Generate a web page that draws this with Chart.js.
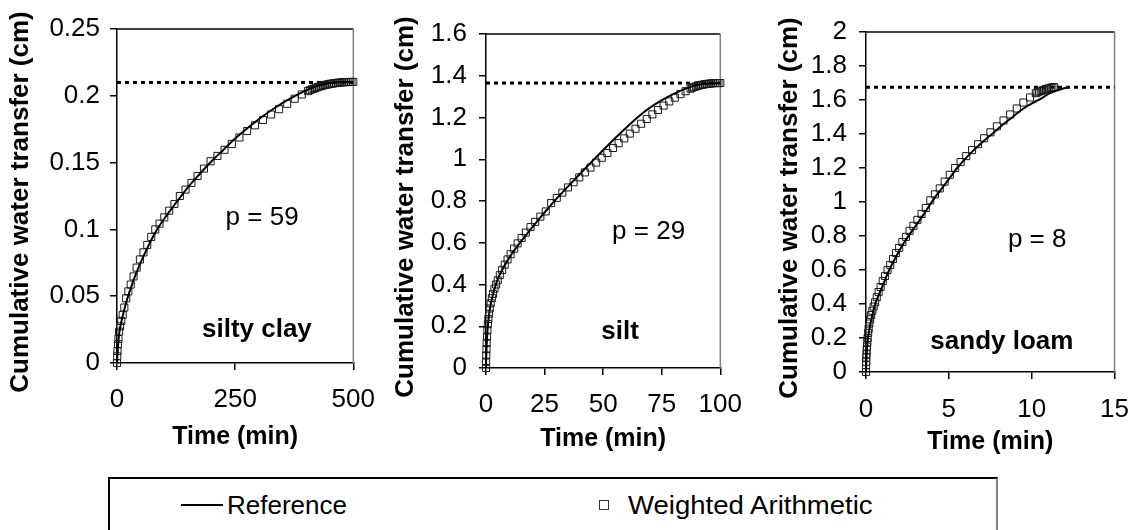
<!DOCTYPE html>
<html>
<head>
<meta charset="utf-8">
<script src="https://cdn.jsdelivr.net/npm/chart.js@4"></script>
<style>
  body { margin: 0; background: #fff; width: 1133px; height: 530px; overflow: hidden; position: relative;
         font-family: 'Liberation Sans', Arial, sans-serif; color: #000; }
  canvas { position: absolute; top: 0; }
  #legend { position: absolute; left: 108px; top: 477px; width: 886px; height: 70px;
            border: 2px solid #000; border-right-color: #808080; }
  .lg { position: absolute; font-size: 26px; line-height: 30px; white-space: nowrap; }
</style>
</head>
<body>
<canvas id="chartSiltyClay" width="389" height="470" style="left:0px"></canvas>
<canvas id="chartSilt" width="376" height="470" style="left:380px"></canvas>
<canvas id="chartSandyLoam" width="384" height="475" style="left:760px"></canvas>

<div id="legend"></div>
<div style="position:absolute;left:181px;top:504px;width:42px;height:2px;background:#000"></div>
<div class="lg" style="left:227px;top:490px">Reference</div>
<div style="position:absolute;left:599px;top:500px;width:8px;height:8px;border:1px solid #333"></div>
<div class="lg" style="left:628px;top:490px;transform:scaleX(1.06);transform-origin:left center">Weighted Arithmetic</div>

<script>
(() => {
  'use strict'
  // silty clay : temps (min) / lame cumulée (cm)
  const tSiltyClay = [0, 0.5, 1, 2, 3, 4.5, 6.5, 9, 12, 15.5, 19.5, 24, 29, 35, 41.5, 48.5, 56, 64, 72.5, 81, 90, 100, 110.5, 121.5, 133, 145, 157.5, 170.5, 184, 198, 212.5, 227.5, 243, 259, 275.5, 292, 309, 326, 343, 360, 376, 391, 404, 408, 412, 416, 420, 424, 428, 432, 436, 440, 444, 448, 452, 456, 460, 464, 468, 472, 476, 480, 484, 488, 492, 496, 500];
  const wSiltyClay = [0, 0.005, 0.009, 0.014, 0.018, 0.0235, 0.0274, 0.0315, 0.036, 0.0415, 0.0484, 0.0536, 0.0587, 0.0648, 0.0714, 0.0775, 0.0828, 0.0884, 0.0944, 0.1, 0.1043, 0.109, 0.114, 0.119, 0.125, 0.1298, 0.1348, 0.14, 0.1455, 0.151, 0.155, 0.1596, 0.164, 0.1688, 0.1736, 0.1779, 0.1819, 0.186, 0.19, 0.194, 0.1978, 0.201, 0.2035, 0.2042, 0.2048, 0.2053, 0.2059, 0.2064, 0.2069, 0.2073, 0.2077, 0.2081, 0.2084, 0.2087, 0.209, 0.2092, 0.2094, 0.2096, 0.2098, 0.2099, 0.2101, 0.2102, 0.2102, 0.2103, 0.2103, 0.2104, 0.2104];
  const tRefSiltyClay = [0, 2, 5, 10, 20, 30, 45, 60, 80, 100, 125, 150, 175, 200, 225, 250, 275, 300, 325, 350, 375, 400, 425, 450, 475, 500];
  const refSiltyClay = [0, 0.012, 0.023, 0.032, 0.046, 0.057, 0.071, 0.083, 0.097, 0.108, 0.12, 0.1315, 0.1415, 0.151, 0.1595, 0.168, 0.1755, 0.1825, 0.1888, 0.1945, 0.1995, 0.204, 0.2075, 0.2095, 0.2103, 0.2104];
  const eqSiltyClay = 0.21;
  const xTicksSiltyClay = [0, 250, 500];
  const yTicksSiltyClay = [0, 0.05, 0.1, 0.15, 0.2, 0.25];

  // silt
  const tSilt = [0, 0.05, 0.1, 0.2, 0.3, 0.45, 0.6, 0.8, 1.0, 1.3, 1.6, 2.0, 2.5, 3.0, 3.6, 4.3, 5.0, 5.9, 6.9, 8.0, 9.2, 10.5, 12.0, 13.5, 15.2, 17.0, 19.0, 21.0, 23.2, 25.5, 27.8, 30.2, 32.6, 35.0, 37.4, 39.8, 42.2, 44.6, 47.0, 49.4, 51.8, 54.2, 56.6, 59.0, 61.4, 63.8, 66.2, 68.6, 71.0, 73.4, 75.8, 78.2, 80.6, 83.0, 85.2, 87.3, 88.0, 88.8, 89.6, 90.4, 91.2, 92.0, 92.8, 93.6, 94.4, 95.2, 96.0, 96.8, 97.6, 98.4, 99.2, 100];
  const wSilt = [0, 0.03, 0.06, 0.09, 0.12, 0.15, 0.18, 0.21, 0.235, 0.26, 0.285, 0.31, 0.335, 0.355, 0.38, 0.40, 0.42, 0.445, 0.47, 0.495, 0.52, 0.545, 0.572, 0.597, 0.623, 0.649, 0.675, 0.70, 0.725, 0.75, 0.79, 0.815, 0.84, 0.865, 0.89, 0.913, 0.937, 0.96, 0.984, 1.007, 1.03, 1.054, 1.077, 1.10, 1.123, 1.146, 1.17, 1.193, 1.215, 1.236, 1.257, 1.277, 1.295, 1.312, 1.326, 1.338, 1.343, 1.346, 1.349, 1.352, 1.354, 1.356, 1.358, 1.36, 1.361, 1.362, 1.363, 1.364, 1.365, 1.365, 1.365, 1.365];
  const tRefSilt = [0, 0.1, 0.3, 0.6, 1.0, 1.6, 2.5, 3.5, 5, 7, 9, 11.5, 14.5, 18, 22, 26, 30, 34, 38, 42, 46, 50, 54, 58, 62, 66, 70, 74, 78, 82, 86, 90, 94, 100];
  const refSilt = [0, 0.05, 0.11, 0.17, 0.225, 0.28, 0.33, 0.375, 0.425, 0.472, 0.512, 0.555, 0.6, 0.65, 0.705, 0.758, 0.81, 0.858, 0.905, 0.952, 0.998, 1.044, 1.089, 1.132, 1.174, 1.213, 1.247, 1.276, 1.301, 1.323, 1.342, 1.355, 1.362, 1.365];
  const eqSilt = 1.365;
  const xTicksSilt = [0, 25, 50, 75, 100];
  const yTicksSilt = [0, 0.2, 0.4, 0.6, 0.8, 1, 1.2, 1.4, 1.6];

  // sandy loam
  const tSandyLoam = [0, 0.005, 0.01, 0.02, 0.03, 0.045, 0.06, 0.08, 0.1, 0.13, 0.16, 0.2, 0.25, 0.31, 0.38, 0.46, 0.55, 0.65, 0.76, 0.88, 1.01, 1.15, 1.3, 1.46, 1.63, 1.81, 2.0, 2.2, 2.41, 2.63, 2.86, 3.1, 3.35, 3.61, 3.88, 4.16, 4.45, 4.75, 5.06, 5.38, 5.71, 6.05, 6.4, 6.76, 7.13, 7.51, 7.9, 8.3, 8.7, 9.1, 9.5, 9.9, 10.25, 10.35, 10.45, 10.55, 10.65, 10.75, 10.85, 10.95, 11.05, 11.15, 11.25, 11.35];
  const wSandyLoam = [0, 0.04, 0.06, 0.085, 0.105, 0.13, 0.15, 0.175, 0.2, 0.23, 0.255, 0.285, 0.31, 0.335, 0.36, 0.385, 0.41, 0.44, 0.47, 0.5, 0.535, 0.565, 0.6, 0.63, 0.665, 0.70, 0.73, 0.765, 0.795, 0.83, 0.86, 0.895, 0.93, 0.965, 1.01, 1.045, 1.08, 1.12, 1.16, 1.2, 1.235, 1.27, 1.305, 1.34, 1.375, 1.41, 1.445, 1.48, 1.515, 1.55, 1.585, 1.615, 1.64, 1.645, 1.65, 1.653, 1.656, 1.66, 1.663, 1.666, 1.669, 1.672, 1.674, 1.676];
  const tRefSandyLoam = [0, 0.02, 0.05, 0.1, 0.2, 0.35, 0.55, 0.8, 1.1, 1.4, 1.8, 2.2, 2.6, 3.0, 3.5, 4.0, 4.5, 5.0, 5.5, 6.0, 6.5, 7.0, 7.6, 8.2, 8.85, 9.5, 10.1, 10.6, 11.1, 11.5, 11.9, 12.3];
  const refSandyLoam = [0, 0.07, 0.12, 0.18, 0.25, 0.32, 0.4, 0.46, 0.53, 0.6, 0.675, 0.745, 0.805, 0.86, 0.93, 1.005, 1.07, 1.135, 1.2, 1.255, 1.305, 1.35, 1.4, 1.45, 1.5, 1.55, 1.585, 1.61, 1.64, 1.655, 1.668, 1.675];
  const eqSandyLoam = 1.675;
  const xTicksSandyLoam = [0, 5, 10, 15];
  const yTicksSandyLoam = [0, 0.2, 0.4, 0.6, 0.8, 1, 1.2, 1.4, 1.6, 1.8, 2];

  // annotations (coordonnées données)
  const notesSiltyClay = [{x: 307, y: 0.1085, text: 'p = 59'}, {x: 296, y: 0.025, text: 'silty clay', bold: true}];
  const notesSilt = [{x: 69.4, y: 0.653, text: 'p = 29'}, {x: 57.2, y: 0.174, text: 'silt', bold: true}];
  const notesSandyLoam = [{x: 10.33, y: 0.776, text: 'p = 8'}, {x: 8.2, y: 0.178, text: 'sandy loam', bold: true}];

  const FONT = "'Liberation Sans', Arial, sans-serif";
  Chart.defaults.font.family = FONT;
  Chart.defaults.color = '#000';

  const pts = (xs, ys) => xs.map((x, i) => ({x: x, y: ys[i]}));

  const createPanel = (id, p) => {
    const framePlugin = { // cadre haut (noir) et droit (gris)
      id: 'frame',
      beforeDatasetsDraw(chart) {
        const {ctx, chartArea: a} = chart;
        ctx.save();
        ctx.lineWidth = 1.5;
        ctx.strokeStyle = '#000';
        ctx.beginPath(); ctx.moveTo(a.left, a.top); ctx.lineTo(a.right, a.top); ctx.stroke();
        ctx.strokeStyle = '#808080';
        ctx.beginPath(); ctx.moveTo(a.right, a.top); ctx.lineTo(a.right, a.bottom); ctx.stroke();
        ctx.restore();
      }
    };
    const textPlugin = { // titre vertical + annotations
      id: 'texts',
      afterDraw(chart) {
        const {ctx, chartArea: a, scales} = chart;
        ctx.save();
        ctx.fillStyle = '#000';
        ctx.textAlign = 'center';
        ctx.textBaseline = 'middle';
        p.notes.forEach(n => {
          ctx.font = (n.bold ? 'bold 26px ' : '26px ') + FONT;
          ctx.fillText(n.text, scales.x.getPixelForValue(n.x), scales.y.getPixelForValue(n.y));
        });
        ctx.translate(p.titleX, (a.top + a.bottom) / 2 + 6);
        ctx.rotate(-Math.PI / 2);
        ctx.font = 'bold 26px ' + FONT;
        ctx.fillText('Cumulative water transfer (cm)', 0, 0);
        ctx.restore();
      }
    };
    const xmax = p.xTicks[p.xTicks.length - 1];
    new Chart(document.getElementById(id), {
      type: 'scatter',
      data: {
        datasets: [{
          label: 'Reference',
          data: pts(p.tRef, p.ref),
          showLine: true,
          borderColor: '#000',
          borderWidth: 2,
          pointRadius: 0,
          cubicInterpolationMode: 'monotone'
        }, {
          label: 'Weighted Arithmetic',
          data: pts(p.t, p.w),
          pointStyle: 'rect',
          pointRadius: 5,
          borderColor: '#1a1a1a',
          borderWidth: 1,
          backgroundColor: 'rgba(0,0,0,0)',
          clip: false
        }, {
          label: 'equilibre',
          data: [{x: 0, y: p.eq}, {x: xmax, y: p.eq}],
          showLine: true,
          borderColor: '#000',
          borderWidth: 3,
          borderDash: [4, 4],
          pointRadius: 0,
          clip: false
        }]
      },
      options: {
        responsive: false,
        animation: false,
        layout: {padding: p.padding},
        plugins: {legend: {display: false}, tooltip: {enabled: false}},
        scales: {
          x: {
            type: 'linear', min: 0, max: xmax,
            afterBuildTicks: s => { s.ticks = p.xTicks.map(v => ({value: v})); },
            afterFit: s => { s.height = 100; },
            ticks: {font: {size: 26}, color: '#000', padding: p.xPad, autoSkip: false, maxRotation: 0, callback: v => String(v)},
            grid: {drawOnChartArea: false, tickLength: 7, color: '#000', lineWidth: 1.5},
            border: {color: '#000', width: 1.5},
            title: {display: true, text: 'Time (min)', font: {size: 25, weight: 'bold'}, color: '#000', padding: {top: 0, bottom: p.xTitlePad}}
          },
          y: {
            type: 'linear', min: 0, max: p.yTicks[p.yTicks.length - 1],
            afterBuildTicks: s => { s.ticks = p.yTicks.map(v => ({value: v})); },
            afterFit: s => { s.width = p.yWidth; },
            ticks: {font: {size: 26}, color: '#000', padding: p.yPad, autoSkip: false, callback: v => String(v)},
            grid: {drawOnChartArea: false, tickLength: 7, color: '#000', lineWidth: 1.5},
            border: {color: '#000', width: 1.5}
          }
        }
      },
      plugins: [framePlugin, textPlugin]
    });
  };

  createPanel('chartSiltyClay', {
    t: tSiltyClay, w: wSiltyClay, tRef: tRefSiltyClay, ref: refSiltyClay, eq: eqSiltyClay,
    xTicks: xTicksSiltyClay, yTicks: yTicksSiltyClay, notes: notesSiltyClay,
    padding: {top: 29, right: 0, bottom: 7, left: 0}, yWidth: 117, yPad: 10, xPad: 14, xTitlePad: 11, titleX: 21
  });
  createPanel('chartSilt', {
    t: tSilt, w: wSilt, tRef: tRefSilt, ref: refSilt, eq: eqSilt,
    xTicks: xTicksSilt, yTicks: yTicksSilt, notes: notesSilt,
    padding: {top: 34, right: 0, bottom: 2, left: 0}, yWidth: 106, yPad: 12, xPad: 14, xTitlePad: 14, titleX: 26
  });
  createPanel('chartSandyLoam', {
    t: tSandyLoam, w: wSandyLoam, tRef: tRefSandyLoam, ref: refSandyLoam, eq: eqSandyLoam,
    xTicks: xTicksSandyLoam, yTicks: yTicksSandyLoam, notes: notesSandyLoam,
    padding: {top: 32, right: 0, bottom: 3, left: 0}, yWidth: 106, yPad: 12, xPad: 15, xTitlePad: 15, titleX: 29.5
  });
})();
</script>
</body>
</html>
